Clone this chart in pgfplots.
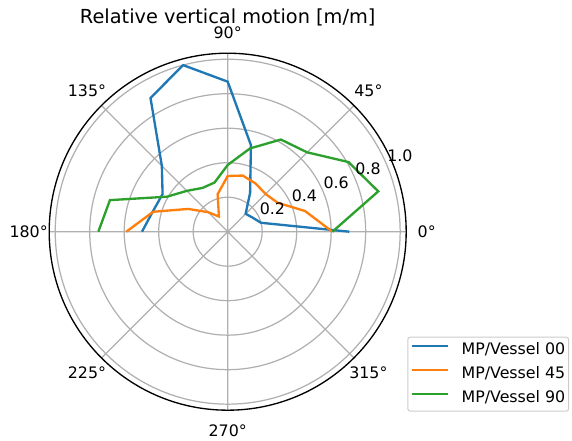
\documentclass[border=0pt]{standalone}
\usepackage{fontspec}
\setmainfont{DejaVu Sans}
\usepackage{pgfplots}
\pgfplotsset{compat=1.18}
\usepgfplotslibrary{polar}
\definecolor{c0}{HTML}{1F77B4}
\definecolor{c1}{HTML}{FF7F0E}
\definecolor{c2}{HTML}{2CA02C}
\definecolor{gridc}{HTML}{B0B0B0}
\begin{document}
\begin{tikzpicture}
\clip (-136.62pt,-125.58pt) rectangle (206.58pt,139.02pt);
\begin{polaraxis}[
  at={(0,0)}, anchor=center,
  width=214.2pt, height=214.2pt, scale only axis,
  xmin=0, xmax=360, ymin=0, ymax=1.035,
  xtick={0,45,...,315}, ytick={0.2,0.4,0.6,0.8,1.0},
  xticklabels={}, yticklabels={},
  xtick style={draw=none}, ytick style={draw=none},
  grid=major,
  major grid style={color=gridc, line width=0.74pt},
  x axis line style={black, line width=0.8pt},
  y axis line style={draw=none},
  clip=false,
  legend style={at={(1.003,-0.004)}, anchor=south west,
    font=\fontsize{9.5}{11}\selectfont,
    draw=black!20, line width=0.6pt, rounded corners=1.5pt,
    fill=white, inner xsep=2pt, inner ysep=3.3pt,
    row sep=5.4pt,
    nodes={inner sep=0pt, text height=7pt, text depth=2pt},
    cells={anchor=west}},
  legend image code/.code={\draw[#1, line width=1.5pt] (0pt,2.6pt) -- (21.4pt,2.6pt);},
]
\addplot[c0, line width=1.4pt] coordinates {(0,0.705) (15,0.20) (30,0.165) (45,0.147) (60,0.26) (75,0.52) (90,0.87) (105,1.0) (120,0.895) (135,0.54) (150,0.436) (165,0.45) (180,0.497)};
\addlegendentry{\hspace{7.4pt}MP/Vessel 00}
\addplot[c1, line width=1.4pt] coordinates {(0,0.607) (15,0.464) (30,0.335) (45,0.31) (60,0.323) (75,0.337) (90,0.323) (105,0.225) (120,0.102) (135,0.16) (150,0.264) (165,0.447) (180,0.588)};
\addlegendentry{\hspace{7.4pt}MP/Vessel 45}
\addplot[c2, line width=1.4pt] coordinates {(0,0.607) (15,0.904) (30,0.808) (45,0.651) (60,0.617) (75,0.50) (90,0.387) (105,0.295) (120,0.293) (135,0.335) (150,0.406) (165,0.707) (180,0.75)};
\addlegendentry{\hspace{7.4pt}MP/Vessel 90}
\foreach \a/\t in {0/0°,45/45°,90/90°,135/135°,180/180°,225/225°,270/270°,315/315°}{
  \edef\tmp{\noexpand\node[font=\noexpand\fontsize{9.5}{11}\noexpand\selectfont, anchor=center, inner sep=0pt] at (axis cs:\a,1.154) {\t};}\tmp
}
\foreach \r in {0.2,0.4,0.6,0.8,1.0}{
  \edef\tmp{\noexpand\node[font=\noexpand\fontsize{9.5}{11}\noexpand\selectfont, anchor=south west, inner sep=0pt, yshift=2.1pt] at (axis cs:22.5,\r) {\r};}\tmp
}
\end{polaraxis}
\node[font=\fontsize{11.6}{14}\selectfont, anchor=base, inner sep=0pt] at (0,125pt) {Relative vertical motion [m/m]};
\end{tikzpicture}
\end{document}
